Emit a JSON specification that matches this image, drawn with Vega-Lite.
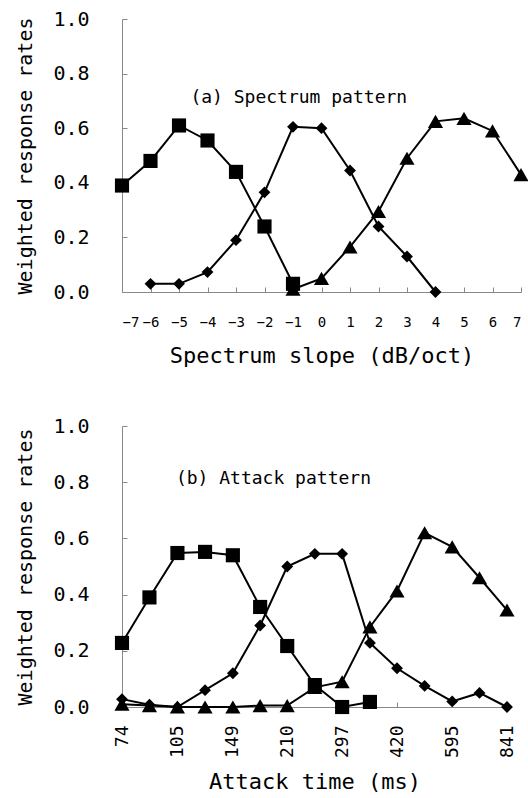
{
  "$schema": "https://vega.github.io/schema/vega-lite/v6.json",
  "background": "white",
  "padding": {"left": 15, "top": 9, "right": 4, "bottom": 4},
  "spacing": 50,
  "config": {
    "font": "DejaVu Sans Mono",
    "view": {"stroke": null},
    "axis": {
      "grid": false,
      "domainColor": "#888",
      "tickColor": "#888",
      "domainWidth": 1,
      "tickWidth": 1,
      "labelColor": "black",
      "titleColor": "black",
      "labelFont": "DejaVu Sans Mono",
      "titleFont": "DejaVu Sans Mono",
      "titleFontWeight": "normal"
    }
  },
  "datasets": {
    "spectrum": [
      {"s": "square", "x": -7, "v": 0.39},
      {"s": "square", "x": -6, "v": 0.48},
      {"s": "square", "x": -5, "v": 0.61},
      {"s": "square", "x": -4, "v": 0.555},
      {"s": "square", "x": -3, "v": 0.44},
      {"s": "square", "x": -2, "v": 0.24},
      {"s": "square", "x": -1, "v": 0.03},
      {"s": "diamond", "x": -6, "v": 0.03},
      {"s": "diamond", "x": -5, "v": 0.03},
      {"s": "diamond", "x": -4, "v": 0.073},
      {"s": "diamond", "x": -3, "v": 0.19},
      {"s": "diamond", "x": -2, "v": 0.365},
      {"s": "diamond", "x": -1, "v": 0.605},
      {"s": "diamond", "x": 0, "v": 0.6},
      {"s": "diamond", "x": 1, "v": 0.445},
      {"s": "diamond", "x": 2, "v": 0.24},
      {"s": "diamond", "x": 3, "v": 0.13},
      {"s": "diamond", "x": 4, "v": 0.0},
      {"s": "triangle", "x": -1, "v": 0.01},
      {"s": "triangle", "x": 0, "v": 0.05},
      {"s": "triangle", "x": 1, "v": 0.165},
      {"s": "triangle", "x": 2, "v": 0.295},
      {"s": "triangle", "x": 3, "v": 0.49},
      {"s": "triangle", "x": 4, "v": 0.625},
      {"s": "triangle", "x": 5, "v": 0.636},
      {"s": "triangle", "x": 6, "v": 0.59},
      {"s": "triangle", "x": 7, "v": 0.43}
    ],
    "attack": [
      {"s": "square", "x": 74, "v": 0.228},
      {"s": "square", "x": 88, "v": 0.39},
      {"s": "square", "x": 105, "v": 0.548},
      {"s": "square", "x": 125, "v": 0.552},
      {"s": "square", "x": 149, "v": 0.54},
      {"s": "square", "x": 177, "v": 0.356},
      {"s": "square", "x": 210, "v": 0.217},
      {"s": "square", "x": 250, "v": 0.078},
      {"s": "square", "x": 297, "v": 0.0},
      {"s": "square", "x": 354, "v": 0.018},
      {"s": "diamond", "x": 74, "v": 0.028},
      {"s": "diamond", "x": 88, "v": 0.008},
      {"s": "diamond", "x": 105, "v": 0.0},
      {"s": "diamond", "x": 125, "v": 0.06},
      {"s": "diamond", "x": 149, "v": 0.12},
      {"s": "diamond", "x": 177, "v": 0.29},
      {"s": "diamond", "x": 210, "v": 0.5},
      {"s": "diamond", "x": 250, "v": 0.545},
      {"s": "diamond", "x": 297, "v": 0.545},
      {"s": "diamond", "x": 354, "v": 0.228},
      {"s": "diamond", "x": 420, "v": 0.138},
      {"s": "diamond", "x": 500, "v": 0.075},
      {"s": "diamond", "x": 595, "v": 0.02},
      {"s": "diamond", "x": 707, "v": 0.05},
      {"s": "diamond", "x": 841, "v": 0.0},
      {"s": "triangle", "x": 74, "v": 0.01},
      {"s": "triangle", "x": 88, "v": 0.005},
      {"s": "triangle", "x": 105, "v": 0.0},
      {"s": "triangle", "x": 125, "v": 0.0},
      {"s": "triangle", "x": 149, "v": 0.0},
      {"s": "triangle", "x": 177, "v": 0.005},
      {"s": "triangle", "x": 210, "v": 0.005},
      {"s": "triangle", "x": 250, "v": 0.07},
      {"s": "triangle", "x": 297, "v": 0.09},
      {"s": "triangle", "x": 354, "v": 0.285},
      {"s": "triangle", "x": 420, "v": 0.413},
      {"s": "triangle", "x": 500, "v": 0.62},
      {"s": "triangle", "x": 595, "v": 0.57},
      {"s": "triangle", "x": 707, "v": 0.46},
      {"s": "triangle", "x": 841, "v": 0.345}
    ]
  },
  "vconcat": [
    {
      "width": 399,
      "height": 273,
      "data": {"name": "spectrum"},
      "encoding": {
        "x": {
          "field": "x", "type": "quantitative",
          "scale": {"domain": [-7, 7], "nice": false, "zero": false},
          "axis": {
            "values": [-7, -6, -5, -4, -3, -2, -1, 0, 1, 2, 3, 4, 5, 6, 7],
            "labelFontSize": 14, "tickSize": -5, "labelPadding": 28,
            "title": "Spectrum slope (dB/oct)", "titleFontSize": 22, "titlePadding": 16
          }
        },
        "y": {
          "field": "v", "type": "quantitative",
          "scale": {"domain": [0, 1], "nice": false},
          "axis": {
            "values": [0, 0.2, 0.4, 0.6, 0.8, 1.0], "format": ".1f",
            "labelFontSize": 20, "tickSize": -5, "labelPadding": 38,
            "title": "Weighted response rates", "titleFontSize": 20, "titlePadding": 17
          }
        }
      },
      "layer": [
        {
          "mark": {"type": "line", "color": "black", "strokeWidth": 2},
          "encoding": {"detail": {"field": "s"}}
        },
        {
          "transform": [{"filter": "datum.s == 'triangle'"}],
          "mark": {"type": "point", "shape": "triangle-up", "size": 230, "filled": true, "opacity": 1, "color": "black"}
        },
        {
          "transform": [{"filter": "datum.s == 'diamond'"}],
          "mark": {"type": "point", "shape": "diamond", "size": 140, "filled": true, "opacity": 1, "color": "black"}
        },
        {
          "transform": [{"filter": "datum.s == 'square'"}],
          "mark": {"type": "point", "shape": "square", "size": 200, "filled": true, "opacity": 1, "color": "black"}
        },
        {
          "data": {"values": [{"x": -4.6, "v": 0.71, "t": "(a) Spectrum pattern"}]},
          "mark": {"type": "text", "align": "left", "baseline": "middle", "fontSize": 18, "letterSpacing": 1.2, "color": "black"},
          "encoding": {"text": {"field": "t"}}
        }
      ]
    },
    {
      "width": 385,
      "height": 281,
      "data": {"name": "attack"},
      "encoding": {
        "x": {
          "field": "x", "type": "quantitative",
          "scale": {"type": "log", "domain": [74, 841], "nice": false},
          "axis": {
            "values": [74, 105, 149, 210, 297, 420, 595, 841], "format": "d",
            "labelAngle": 270, "labelAlign": "right", "labelBaseline": "middle",
            "labelFontSize": 18, "tickSize": -5, "labelPadding": 23,
            "title": "Attack time (ms)", "titleFontSize": 22, "titlePadding": 14
          }
        },
        "y": {
          "field": "v", "type": "quantitative",
          "scale": {"domain": [0, 1], "nice": false},
          "axis": {
            "values": [0, 0.2, 0.4, 0.6, 0.8, 1.0], "format": ".1f",
            "labelFontSize": 20, "tickSize": -5, "labelPadding": 38,
            "title": "Weighted response rates", "titleFontSize": 20, "titlePadding": 17
          }
        }
      },
      "layer": [
        {
          "mark": {"type": "line", "color": "black", "strokeWidth": 2},
          "encoding": {"detail": {"field": "s"}}
        },
        {
          "transform": [{"filter": "datum.s == 'triangle'"}],
          "mark": {"type": "point", "shape": "triangle-up", "size": 230, "filled": true, "opacity": 1, "color": "black"}
        },
        {
          "transform": [{"filter": "datum.s == 'diamond'"}],
          "mark": {"type": "point", "shape": "diamond", "size": 140, "filled": true, "opacity": 1, "color": "black"}
        },
        {
          "transform": [{"filter": "datum.s == 'square'"}],
          "mark": {"type": "point", "shape": "square", "size": 200, "filled": true, "opacity": 1, "color": "black"}
        },
        {
          "data": {"values": [{"x": 104, "v": 0.81, "t": "(b) Attack pattern"}]},
          "mark": {"type": "text", "align": "left", "baseline": "middle", "fontSize": 18, "letterSpacing": 1.2, "color": "black"},
          "encoding": {"text": {"field": "t"}}
        }
      ]
    }
  ]
}
